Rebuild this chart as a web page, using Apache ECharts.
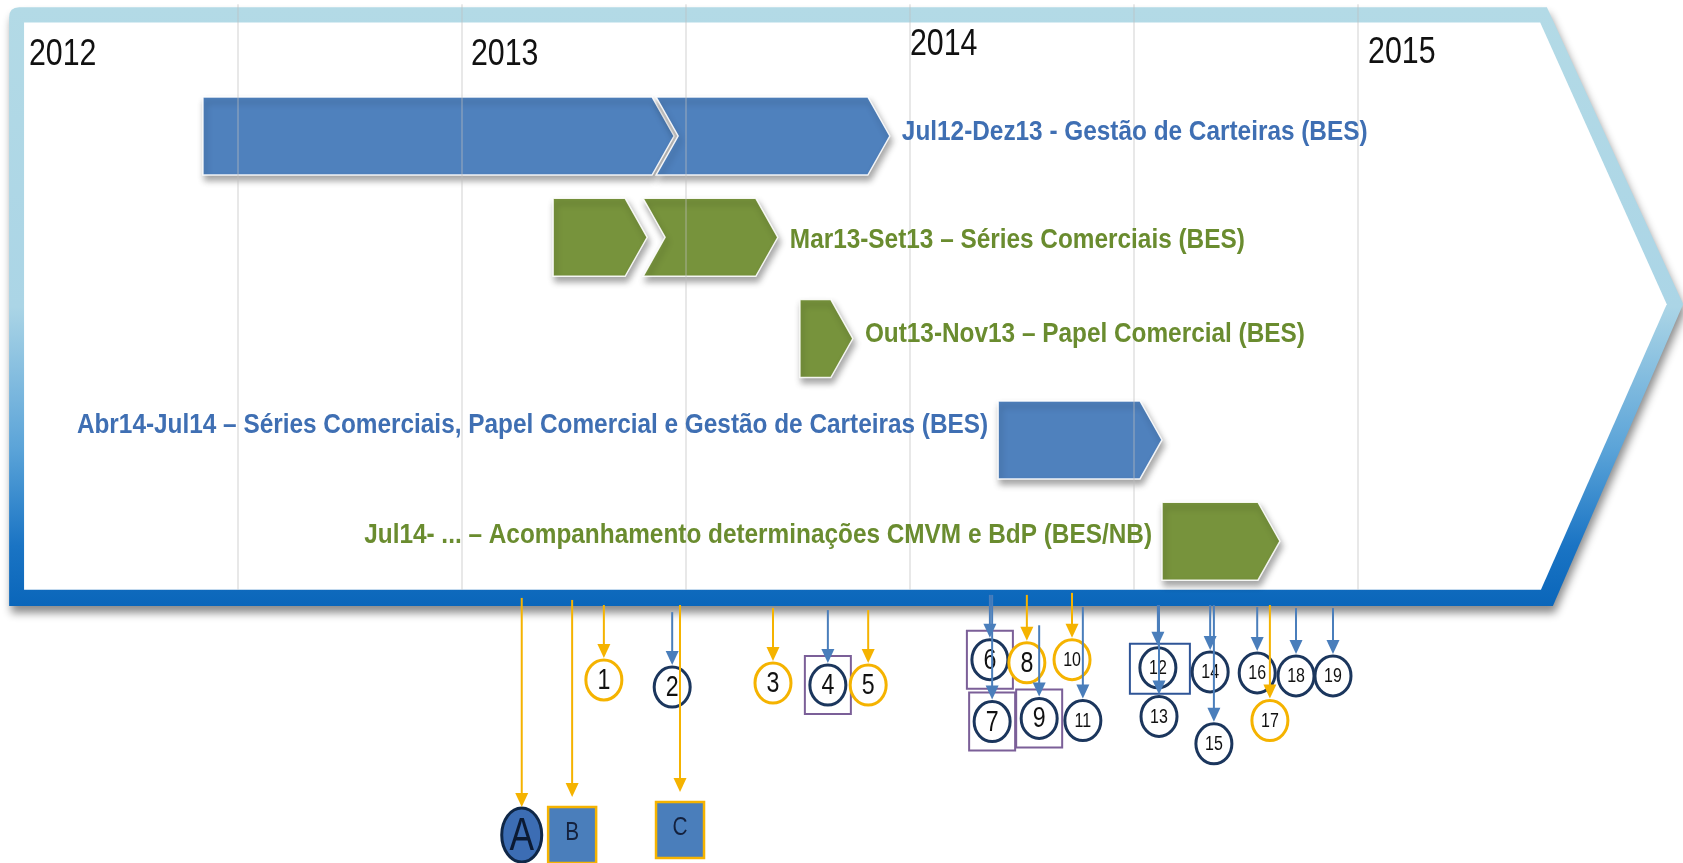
<!DOCTYPE html>
<html>
<head>
<meta charset="utf-8">
<title>Cronologia</title>
<script src="https://cdn.jsdelivr.net/npm/echarts@6/dist/echarts.min.js"></script>
<style>
  html, body { margin: 0; padding: 0; background: #fff; }
  #chart { width: 1683px; height: 863px; }
</style>
</head>
<body>
<div id="chart"></div>
<script>
// x = months counted from Jan 2012, y = lanes (0 = first bar row)
const gridMonths = [6, 12, 18, 24, 30, 36];
const yearLabels = ['2012', '2013', '2014', '2015'];
const yearLabelMonths = [0.4, 12.24, 24.0, 36.27];
const yearLabelLanes = [-0.8, -0.8, -0.9, -0.82];

const barTitles = [
  'Jul12-Dez13 - Gestão de Carteiras (BES)',
  'Mar13-Set13 – Séries Comerciais (BES)',
  'Out13-Nov13 – Papel Comercial (BES)',
  'Abr14-Jul14 – Séries Comerciais, Papel Comercial e Gestão de Carteiras (BES)',
  'Jul14- ... – Acompanhamento determinações CMVM e BdP (BES/NB)'
];
const barTones = ['blue', 'green', 'green', 'blue', 'green'];
const barSegments = [
  [[5.06, 17.68], [17.2, 23.46]],
  [[14.44, 16.96], [16.85, 20.46]],
  [[21.05, 22.47]],
  [[26.36, 30.75]],
  [[30.75, 33.91]]
];
const barLabelSide = ['right', 'right', 'right', 'left', 'left'];
const barLabelLanes = [-0.04, 1.03, 1.96, 2.86, 3.94];

const markerNames = ['1', '2', '3', '4', '5', '6', '7', '8', '9', '10', '11', '12', '13', '14', '15', '16', '17', '18', '19', 'A', 'B', 'C'];
const markerMonths = [15.8, 17.63, 20.33, 21.8, 22.88, 26.14, 26.2, 27.13, 27.46, 28.34, 28.63, 30.64, 30.67, 32.04, 32.14, 33.3, 33.64, 34.34, 35.33, 13.6, 14.95, 17.84];
const markerLanes = [5.37, 5.44, 5.40, 5.42, 5.42, 5.17, 5.78, 5.20, 5.75, 5.17, 5.77, 5.25, 5.73, 5.29, 6.00, 5.30, 5.77, 5.33, 5.33, 6.90, 6.90, 6.85];
const markerTones = ['y', 'b', 'y', 'b', 'y', 'b', 'b', 'y', 'b', 'y', 'b', 'b', 'b', 'b', 'b', 'b', 'y', 'b', 'b', 'y', 'y', 'y'];
const markerShapes = ['circle', 'circle', 'circle', 'circle', 'circle', 'circle', 'circle', 'circle', 'circle', 'circle', 'circle', 'circle', 'circle', 'circle', 'circle', 'circle', 'circle', 'circle', 'circle', 'ellipse', 'square', 'square'];
const arrowFromLanes = [4.63, 4.70, 4.66, 4.68, 4.68, 4.53, 4.53, 4.53, 4.83, 4.51, 4.65, 4.63, 4.63, 4.63, 4.63, 4.65, 4.63, 4.66, 4.66, 4.56, 4.58, 4.63];
const purpleBoxed = ['4', '6', '7', '9'];
const navyBoxed = ['12'];

const BLUE = '#4f81bd', GREEN = '#77933c';
const TEXT_BLUE = '#3f6fb3', TEXT_GREEN = '#6a8c2f';
const GOLD = '#f5b300', NAVY = '#1b365d', ARROW_BLUE = '#4a7ebb';
const FONT = '"Liberation Sans", Arial, sans-serif';

const chart = echarts.init(document.getElementById('chart'));

// the picture uses a tall, narrow face: squeeze the text horizontally
function squeezed(x, y, text, font, fill, align, sx) {
  return {
    type: 'text',
    x: x, y: y, scaleX: sx,
    style: {
      text: text, x: 0, y: 0, font: font, fill: fill,
      align: align, textAlign: align, verticalAlign: 'middle', textVerticalAlign: 'middle'
    }
  };
}

// big arrow-shaped frame (layout, in axis units)
function renderFrame(params, api) {
  const c = (m, l) => api.coord([m, l]);
  const tl = c(-0.13, -1.27), tr = c(41.06, -1.27), tip = c(44.71, 1.66), br = c(41.22, 4.64), bl = c(-0.13, 4.64);
  const r = 10;
  const outerPath = 'M' + (tl[0] + r) + ' ' + tl[1] + ' L' + tr[0] + ' ' + tr[1] + ' L' + tip[0] + ' ' + tip[1] +
    ' L' + br[0] + ' ' + br[1] + ' L' + bl[0] + ' ' + bl[1] + ' L' + tl[0] + ' ' + (tl[1] + r) +
    ' Q' + tl[0] + ' ' + tl[1] + ' ' + (tl[0] + r) + ' ' + tl[1] + ' Z';
  const inner = [c(0.27, -1.12), c(40.88, -1.12), c(44.27, 1.66), c(40.9, 4.48), c(0.27, 4.48)];
  return {
    type: 'group',
    children: [
      {
        type: 'path',
        shape: { pathData: outerPath },
        style: {
          fill: new echarts.graphic.LinearGradient(0, 0, 0, 1, [
            { offset: 0, color: '#b3dae6' },
            { offset: 0.5, color: '#abd5e6' },
            { offset: 0.74, color: '#5aa3d8' },
            { offset: 0.9, color: '#1a74c4' },
            { offset: 1, color: '#0a66ba' }
          ]),
          shadowBlur: 8,
          shadowOffsetY: 7,
          shadowOffsetX: 2,
          shadowColor: 'rgba(0,0,0,0.45)'
        }
      },
      { type: 'polygon', shape: { points: inner }, style: { fill: '#ffffff' } }
    ]
  };
}

function renderGridLine(params, api) {
  const a = api.coord([api.value(0), -1.3]);
  const b = api.coord([api.value(0), 4.48]);
  return {
    type: 'line',
    shape: { x1: a[0], y1: a[1], x2: b[0], y2: b[1] },
    style: { stroke: 'rgba(190,190,190,0.7)', lineWidth: 1 }
  };
}

function renderYear(params, api) {
  const p = api.coord([api.value(0), api.value(1)]);
  return squeezed(p[0], p[1], yearLabels[api.value(2)], '37px ' + FONT, '#111', 'left', 0.82);
}

function renderChevron(params, api) {
  const row = api.value(2), k = api.value(3);
  const top = api.coord([api.value(0), row - 0.385]);
  const bot = api.coord([api.value(0), row + 0.385]);
  const mid = api.coord([api.value(1), row]);
  const left = top[0], right = mid[0], d = 22;
  const pts = [[left, top[1]], [right - d, top[1]], [right, mid[1]], [right - d, bot[1]], [left, bot[1]]];
  if (k > 0) pts.push([left + d, mid[1]]);
  return {
    type: 'polygon',
    shape: { points: pts },
    style: {
      fill: barTones[row] === 'blue' ? BLUE : GREEN,
      stroke: 'rgba(255,255,255,0.9)', lineWidth: 1.5,
      shadowBlur: 6, shadowOffsetY: 5, shadowOffsetX: 2, shadowColor: 'rgba(0,0,0,0.35)'
    }
  };
}

function renderBarLabel(params, api) {
  const i = api.value(2);
  const p = api.coord([api.value(0), api.value(1)]);
  const right = barLabelSide[i] === 'right';
  return squeezed(right ? p[0] + 12 : p[0] - 10, p[1], barTitles[i], 'bold 28px ' + FONT,
    barTones[i] === 'blue' ? TEXT_BLUE : TEXT_GREEN, right ? 'left' : 'right', 0.87);
}

function renderMarker(params, api) {
  const i = api.value(2);
  const name = markerNames[i];
  const p = api.coord([api.value(0), api.value(1)]);
  const kids = [];
  const shape = markerShapes[i];
  if (shape === 'circle') {
    kids.push({
      type: 'ellipse', shape: { cx: p[0], cy: p[1], rx: 18, ry: 20 },
      style: { fill: '#fff', stroke: markerTones[i] === 'y' ? GOLD : NAVY, lineWidth: 3 }
    });
    kids.push(squeezed(p[0], p[1] + 1, name, (name.length > 1 ? '20px ' : '29px ') + FONT, '#111', 'center', 0.8));
  } else if (shape === 'ellipse') {
    kids.push({
      type: 'ellipse', shape: { cx: p[0], cy: p[1], rx: 20, ry: 27 },
      style: { fill: '#3c6db4', stroke: '#0f2747', lineWidth: 3 }
    });
    kids.push(squeezed(p[0], p[1] + 2, name, '46px ' + FONT, '#0b1a33', 'center', 0.8));
  } else {
    kids.push({
      type: 'rect', shape: { x: p[0] - 24, y: p[1] - 28, width: 48, height: 56 },
      style: { fill: '#4a7ebb', stroke: GOLD, lineWidth: 2.5 }
    });
    kids.push(squeezed(p[0], p[1] - 2, name, '26px ' + FONT, '#14213d', 'center', 0.8));
  }
  if (purpleBoxed.indexOf(name) >= 0) {
    kids.push({
      type: 'rect', shape: { x: p[0] - 23, y: p[1] - 29, width: 46, height: 58 },
      style: { fill: 'none', stroke: '#7b5f98', lineWidth: 2 }
    });
  }
  if (navyBoxed.indexOf(name) >= 0) {
    kids.push({
      type: 'rect', shape: { x: p[0] - 28, y: p[1] - 24, width: 60, height: 50 },
      style: { fill: 'none', stroke: '#2f5597', lineWidth: 2 }
    });
  }
  return { type: 'group', children: kids };
}

function renderArrow(params, api) {
  const i = api.value(2);
  const target = api.coord([api.value(0), api.value(1)]);
  const from = api.coord([api.value(0), arrowFromLanes[i]]);
  const reach = markerShapes[i] === 'circle' ? 22 : (markerShapes[i] === 'ellipse' ? 28 : 38);
  const x = target[0], tip = target[1] - reach;
  const col = markerTones[i] === 'y' ? GOLD : ARROW_BLUE;
  return {
    type: 'group',
    children: [
      { type: 'line', shape: { x1: x, y1: from[1], x2: x, y2: tip - 10 }, style: { stroke: col, lineWidth: 2 } },
      { type: 'polygon', shape: { points: [[x - 6.5, tip - 14], [x + 6.5, tip - 14], [x, tip]] }, style: { fill: col } }
    ]
  };
}

const segData = [];
barSegments.forEach((segs, row) => segs.forEach((s, k) => segData.push([s[0], s[1], row, k])));

const labelData = barTitles.map((t, i) => {
  const segs = barSegments[i];
  const anchor = barLabelSide[i] === 'right' ? segs[segs.length - 1][1] : segs[0][0];
  return [anchor, barLabelLanes[i], i];
});

const markerData = markerNames.map((n, i) => [markerMonths[i], markerLanes[i], i]);

const option = {
  animation: false,
  backgroundColor: '#fff',
  grid: { left: 14, right: 325, top: 34.7, bottom: 17.9 },
  xAxis: { type: 'value', min: 0, max: 36, show: false },
  yAxis: { type: 'value', min: -1, max: 7, inverse: true, show: false },
  series: [
    { type: 'custom', z: 1, renderItem: renderFrame, data: [[0, 0]], encode: { x: 0, y: 1 } },
    { type: 'custom', z: 3, renderItem: renderChevron, data: segData, encode: { x: [0, 1], y: 2 } },
    { type: 'custom', z: 4, renderItem: renderGridLine, data: gridMonths.map(m => [m, 0]), encode: { x: 0, y: 1 } },
    { type: 'custom', z: 5, renderItem: renderYear, data: yearLabelMonths.map((m, i) => [m, yearLabelLanes[i], i]), encode: { x: 0, y: 1 } },
    { type: 'custom', z: 5, renderItem: renderBarLabel, data: labelData, encode: { x: 0, y: 1 } },
    { type: 'custom', z: 6, renderItem: renderMarker, data: markerData, encode: { x: 0, y: 1 } },
    { type: 'custom', z: 7, renderItem: renderArrow, data: markerData, encode: { x: 0, y: 1 } }
  ]
};

chart.setOption(option);
</script>
</body>
</html>
